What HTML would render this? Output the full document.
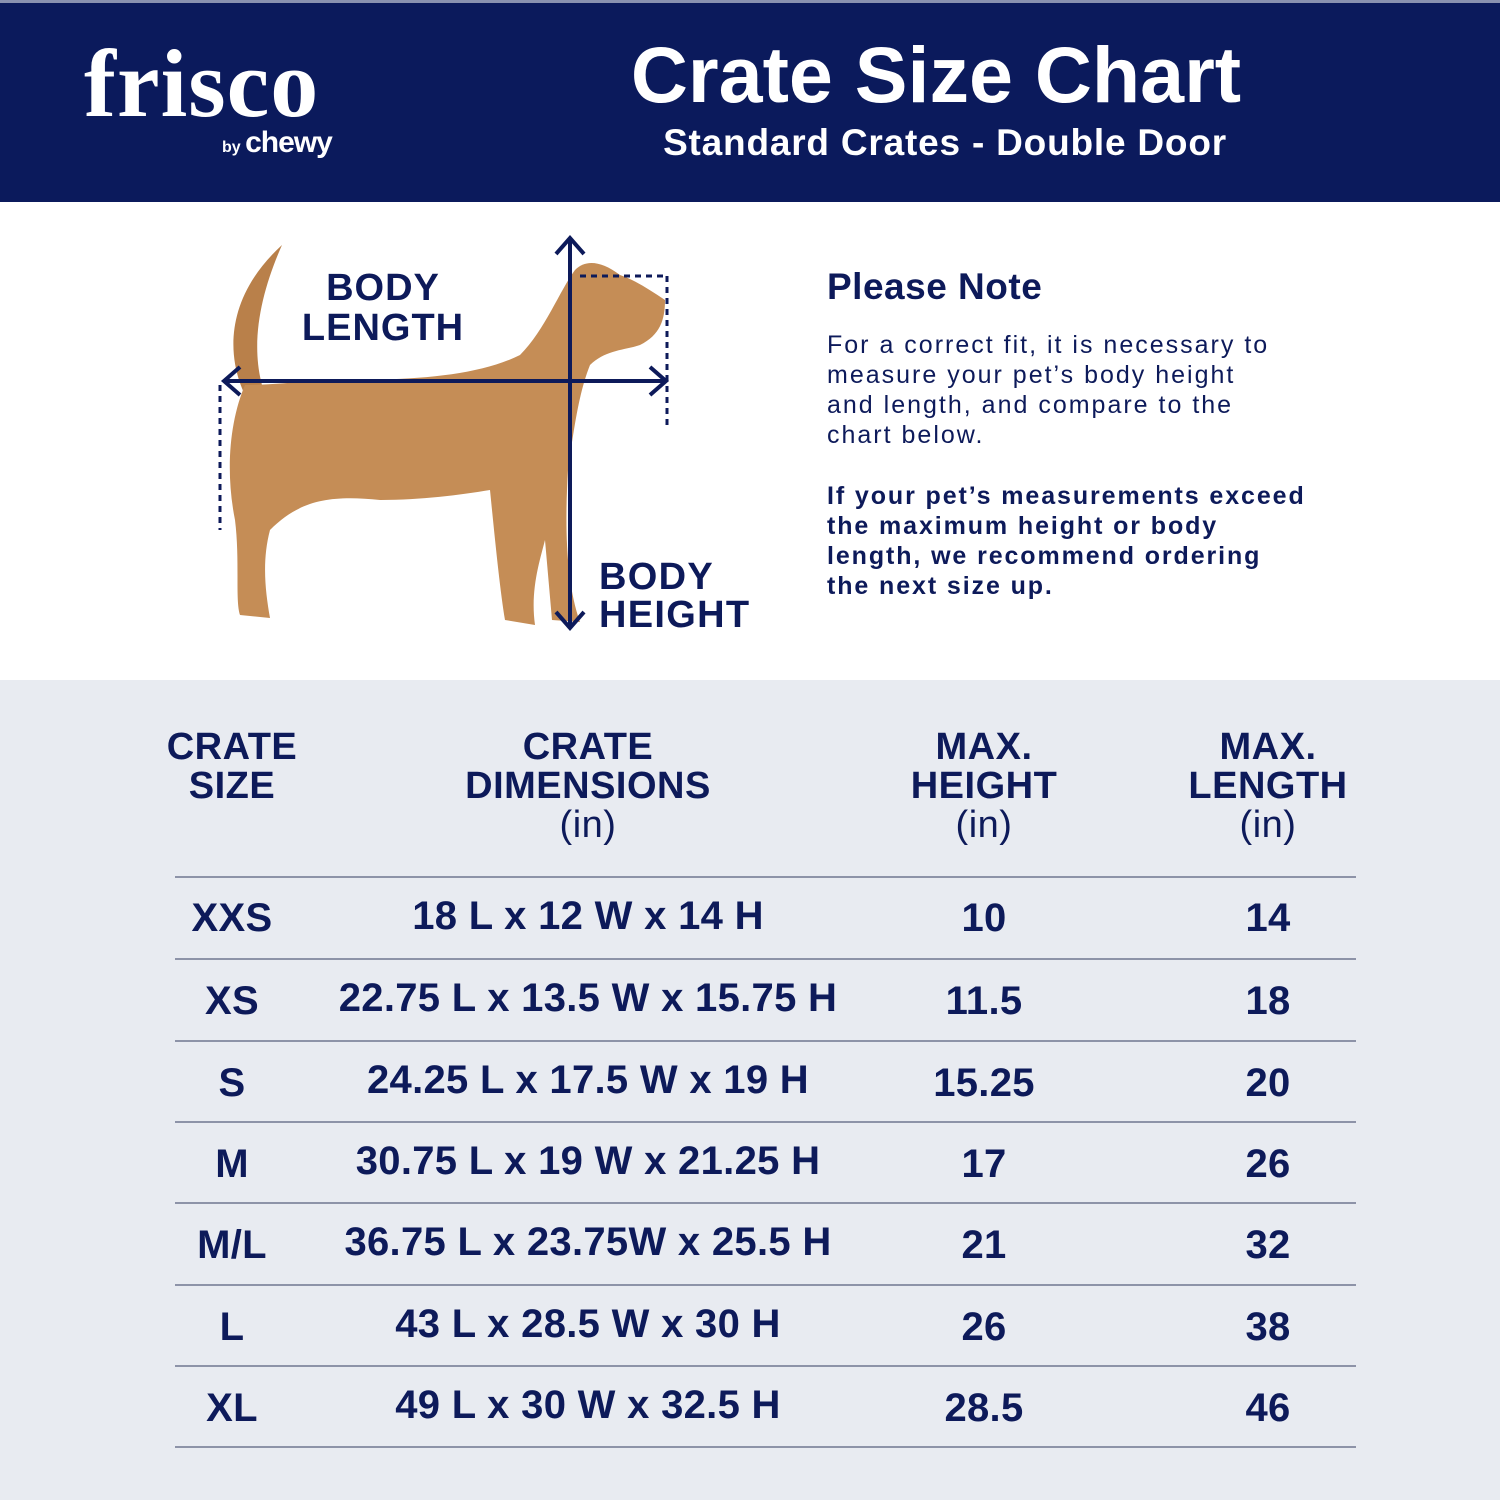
<!DOCTYPE html>
<html><head><meta charset="utf-8"><style>
*{margin:0;padding:0;box-sizing:border-box}
body{width:1500px;height:1500px;background:#e8ebf1;font-family:"Liberation Sans",sans-serif;color:#0d1a5a;position:relative;overflow:hidden}
.hdr{position:absolute;left:0;top:0;width:1500px;height:202px;background:#0b1a5c;border-top:3px solid #8a92b0}
.white{position:absolute;left:0;top:202px;width:1500px;height:478px;background:#fff}
.a{position:absolute;white-space:nowrap}
.c{transform:translateX(-50%);text-align:center}
.b{font-weight:bold}
.line{position:absolute;left:175px;width:1181px;height:2px;background:#8d93a8}
.hd{font-weight:bold;font-size:38px;line-height:39px;letter-spacing:0.5px}
.in{font-weight:normal}
.row{font-weight:bold;font-size:40px;letter-spacing:0.3px}
</style></head><body>
<div class="hdr"></div>
<div class="a" style="left:84px;top:28px;font-family:'Liberation Serif',serif;font-weight:bold;font-size:96px;color:#fff;letter-spacing:1px">frisco</div>
<div class="a" style="left:222px;top:126px;color:#fff;font-size:16px;font-weight:bold">by <span style="font-size:30px;letter-spacing:-1px">chewy</span></div>
<div class="a c b" style="left:936px;top:29px;font-size:79px;color:#fff">Crate Size Chart</div>
<div class="a c b" style="left:945px;top:122px;font-size:37px;color:#fff;letter-spacing:0.8px">Standard Crates - Double Door</div>
<div class="white"></div>
<svg class="a" style="left:0;top:202px" width="800" height="478" viewBox="0 202 800 478">
<path d="M245 395 C228 360 222 300 282 245 C262 290 250 340 262 385 Z" fill="#b9804a"/>
<path d="M245 385 C230 420 225 470 235 520 C240 560 235 600 240 615 L270 618 C265 590 262 560 270 530 C300 500 330 495 380 500 C420 500 460 495 490 490 C495 540 500 590 505 620 L535 625 C530 590 540 560 545 540 L552 620 L580 622 C565 580 565 520 568 470 C575 420 580 390 590 365 C605 350 625 350 640 345 C660 335 665 320 665 300 C650 290 635 280 620 275 C600 260 585 260 575 270 C560 290 545 330 520 355 C480 375 420 380 350 380 C310 380 275 385 245 385 Z" fill="#c58d56"/>
<g stroke="#0d1a5a" stroke-width="4" fill="none">
<line x1="570" y1="240" x2="570" y2="625"/><polyline points="556,254 570,238 584,254"/><polyline points="556,612 570,628 584,612"/>
<line x1="225" y1="381" x2="665" y2="381"/><polyline points="240,367 224,381 240,395"/><polyline points="650,367 666,381 650,395"/>
<line x1="220" y1="385" x2="220" y2="530" stroke-dasharray="6,5" stroke-width="3"/>
<line x1="667" y1="276" x2="667" y2="430" stroke-dasharray="6,5" stroke-width="3"/>
<line x1="580" y1="276" x2="667" y2="276" stroke-dasharray="6,5" stroke-width="3"/>
</g></svg>
<div class="a c b" style="left:383px;top:268px;font-size:38px;line-height:40px;letter-spacing:1px">BODY<br>LENGTH</div>
<div class="a b" style="left:599px;top:558px;font-size:38px;line-height:38px;letter-spacing:1.3px">BODY<br>HEIGHT</div>
<div class="a b" style="left:827px;top:266px;font-size:37px;letter-spacing:0.5px">Please Note</div>
<div class="a" style="left:827px;top:330px;font-size:25px;line-height:30px;letter-spacing:2px">For a correct fit, it is necessary to<br>measure your pet’s body height<br>and length, and compare to the<br>chart below.</div>
<div class="a b" style="left:827px;top:481px;font-size:25px;line-height:30px;letter-spacing:1.9px">If your pet’s measurements exceed<br>the maximum height or body<br>length, we recommend ordering<br>the next size up.</div>
<div class="a c hd" style="left:232px;top:728px">CRATE<br>SIZE</div>
<div class="a c hd" style="left:588px;top:728px">CRATE<br>DIMENSIONS<br><span class="in">(in)</span></div>
<div class="a c hd" style="left:984px;top:728px">MAX.<br>HEIGHT<br><span class="in">(in)</span></div>
<div class="a c hd" style="left:1268px;top:728px">MAX.<br>LENGTH<br><span class="in">(in)</span></div>
<div class="line" style="top:876px"></div><div class="line" style="top:958px"></div><div class="line" style="top:1040px"></div><div class="line" style="top:1121px"></div><div class="line" style="top:1202px"></div><div class="line" style="top:1284px"></div><div class="line" style="top:1365px"></div><div class="line" style="top:1446px"></div>
<div class="a c row" style="left:232px;top:896px">XXS</div><div class="a c row" style="left:588px;top:894px">18 L x 12 W x 14 H</div><div class="a c row" style="left:984px;top:896px">10</div><div class="a c row" style="left:1268px;top:896px">14</div>
<div class="a c row" style="left:232px;top:979px">XS</div><div class="a c row" style="left:588px;top:976px">22.75 L x 13.5 W x 15.75 H</div><div class="a c row" style="left:984px;top:979px">11.5</div><div class="a c row" style="left:1268px;top:979px">18</div>
<div class="a c row" style="left:232px;top:1061px">S</div><div class="a c row" style="left:588px;top:1058px">24.25 L x 17.5 W x 19 H</div><div class="a c row" style="left:984px;top:1061px">15.25</div><div class="a c row" style="left:1268px;top:1061px">20</div>
<div class="a c row" style="left:232px;top:1142px">M</div><div class="a c row" style="left:588px;top:1139px">30.75 L x 19 W x 21.25 H</div><div class="a c row" style="left:984px;top:1142px">17</div><div class="a c row" style="left:1268px;top:1142px">26</div>
<div class="a c row" style="left:232px;top:1223px">M/L</div><div class="a c row" style="left:588px;top:1220px">36.75 L x 23.75W x 25.5 H</div><div class="a c row" style="left:984px;top:1223px">21</div><div class="a c row" style="left:1268px;top:1223px">32</div>
<div class="a c row" style="left:232px;top:1305px">L</div><div class="a c row" style="left:588px;top:1302px">43 L x 28.5 W x 30 H</div><div class="a c row" style="left:984px;top:1305px">26</div><div class="a c row" style="left:1268px;top:1305px">38</div>
<div class="a c row" style="left:232px;top:1386px">XL</div><div class="a c row" style="left:588px;top:1383px">49 L x 30 W x 32.5 H</div><div class="a c row" style="left:984px;top:1386px">28.5</div><div class="a c row" style="left:1268px;top:1386px">46</div>
</body></html>
